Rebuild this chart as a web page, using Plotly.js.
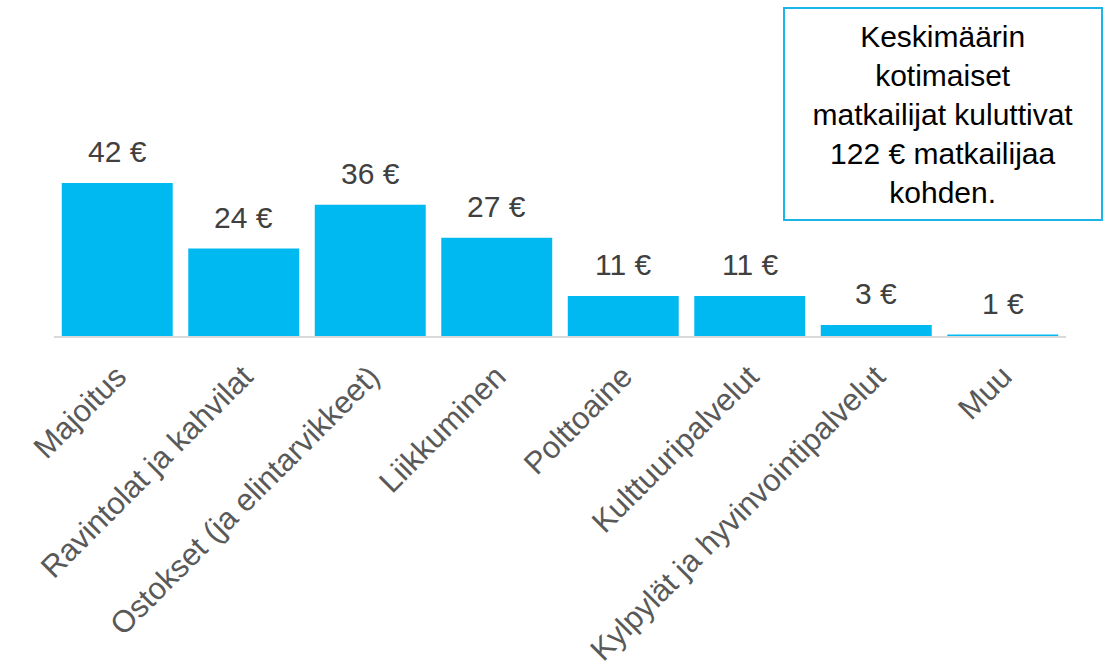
<!DOCTYPE html>
<html>
<head>
<meta charset="utf-8">
<script src="https://cdn.plot.ly/plotly-3.0.1.min.js"></script>
<style>html,body{margin:0;padding:0;background:#fff;}#chart{width:1107px;height:668px;}</style>
</head>
<body>
<div id="chart"></div>
<script>
const categories = ["Majoitus", "Ravintolat ja kahvilat", "Ostokset (ja elintarvikkeet)", "Liikkuminen", "Polttoaine", "Kulttuuripalvelut", "Kylpylät ja hyvinvointipalvelut", "Muu"];
const values = [42, 24, 36, 27, 11, 11, 3, 0.4];
const valueLabels = ["42 €", "24 €", "36 €", "27 €", "11 €", "11 €", "3 €", "1 €"];
const boxText = "Keskimäärin<br>kotimaiset<br>matkailijat kuluttivat<br>122 € matkailijaa<br>kohden.";

const FONT = "Liberation Sans, Arial, sans-serif";

const trace = {
  type: "bar",
  x: categories,
  y: values,
  marker: {color: "#00B9F1", line: {width: 0}},
  hoverinfo: "none"
};

const annotations = categories.map((c, i) => ({
  x: c, y: values[i], xref: "x", yref: "y",
  text: valueLabels[i], showarrow: false,
  yanchor: "bottom", yshift: 13,
  font: {family: FONT, size: 30, color: "#404040"}
}));

annotations.push({
  xref: "paper", yref: "paper", x: 0.8785, y: 0.681,
  xanchor: "center", yanchor: "middle",
  text: boxText, showarrow: false, align: "center",
  width: 316, height: 210, borderpad: 0,
  bordercolor: "#1BB5E8", borderwidth: 2, bgcolor: "#ffffff",
  font: {family: FONT, size: 30, color: "#000000"}
});

const layout = {
  width: 1107, height: 668,
  margin: {l: 54, r: 41, t: 10, b: 332},
  paper_bgcolor: "#ffffff", plot_bgcolor: "#ffffff",
  bargap: 0.123,
  showlegend: false,
  xaxis: {
    showline: true, linecolor: "#D9D9D9", linewidth: 2,
    ticks: "", tickangle: -45, showgrid: false, zeroline: false,
    ticklabelstandoff: 8,
    tickfont: {family: FONT, size: 31, color: "#595959"},
    automargin: false
  },
  yaxis: {
    range: [0, 89.5], visible: false, showgrid: false, zeroline: false
  },
  annotations: annotations
};

Plotly.newPlot("chart", [trace], layout, {staticPlot: true, displayModeBar: false});
</script>
</body>
</html>
